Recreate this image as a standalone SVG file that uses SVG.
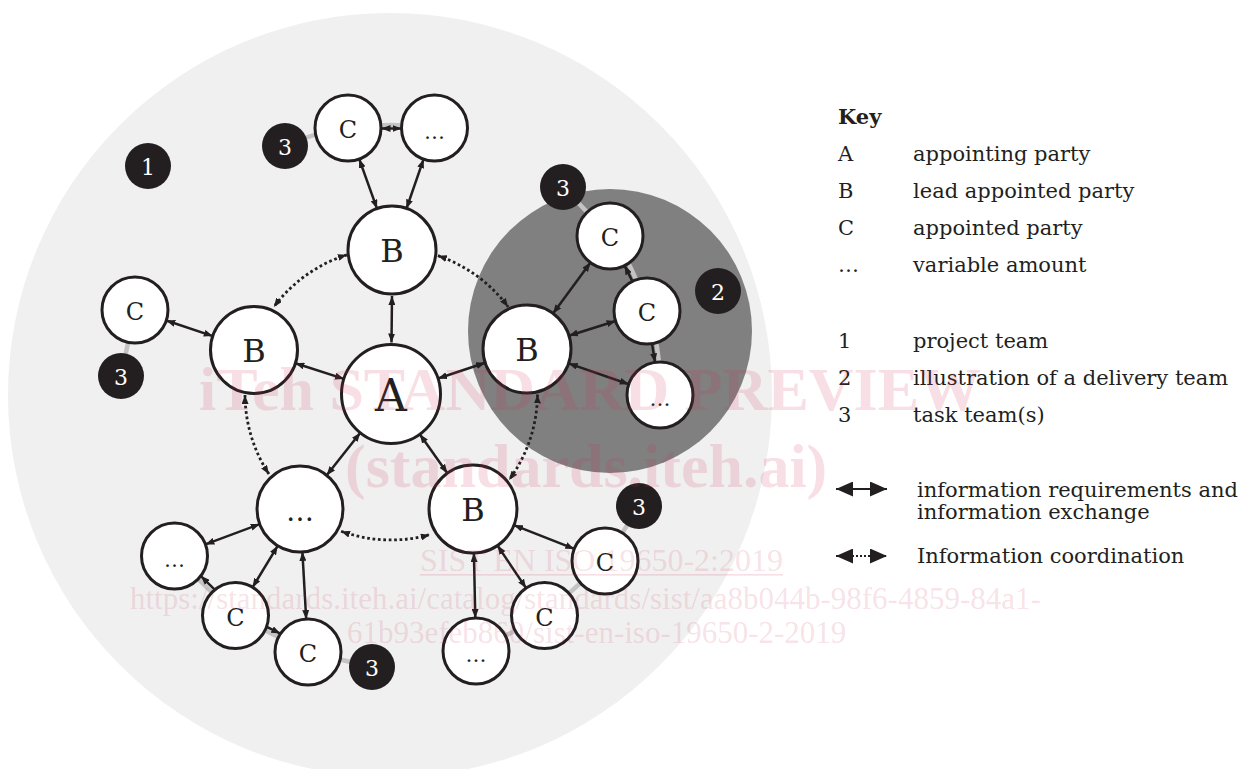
<svg xmlns="http://www.w3.org/2000/svg" width="1238" height="769" viewBox="0 0 1238 769">
<defs>
<marker id="ah" viewBox="0 0 9 7" refX="9" refY="3.5" markerWidth="9" markerHeight="7" markerUnits="userSpaceOnUse" orient="auto-start-reverse"><path d="M0,0L9,3.5L0,7z" fill="#231f20"/></marker>
<marker id="ahL" viewBox="0 0 17 15" refX="17" refY="7.5" markerWidth="17" markerHeight="15" markerUnits="userSpaceOnUse" orient="auto-start-reverse"><path d="M0,0L17,7.5L0,15z" fill="#231f20"/></marker>
</defs>
<style>
.node circle{fill:#fff;stroke:#231f20;stroke-width:3}
.node text{font-family:"DejaVu Serif",serif;fill:#231f20;text-anchor:middle}
.lg{font-size:32px}
.sm{font-size:24px}
.elb{font-size:28px}
.els{font-size:21px}
.badge circle{fill:#231f20}
.badge text{fill:#fff;font-family:"DejaVu Serif",serif;font-size:22px;text-anchor:middle}
.arr{stroke:#231f20;stroke-width:2.5;fill:none;marker-start:url(#ah);marker-end:url(#ah)}
.one{stroke:#231f20;stroke-width:2.5;fill:none;marker-end:url(#ah)}
.dot{stroke:#231f20;stroke-width:2.8;stroke-dasharray:2.7 2.7;fill:none;marker-start:url(#ah);marker-end:url(#ah)}
.task{stroke:#c4c4c4;stroke-width:4.5;fill:none}
.key{font-family:"DejaVu Serif",serif;font-size:21px;fill:#231f20}
.wm{font-family:"Liberation Serif",serif;fill:#c8284e;fill-opacity:0.15}
</style>
<rect width="1238" height="769" fill="#fff"/>
<g id="project-team">
<circle cx="390" cy="395" r="382" fill="#f0f0f0"/>
</g>
<g id="delivery-team">
<circle cx="610" cy="331" r="142" fill="#808080"/>
</g>
<g id="task-links">
<path class="task" d="M285,146 Q315,132 348,128 Q391,122 434.5,128"/>
<path class="task" d="M135,310 L121,376"/>
<path class="task" d="M563,187 L610,236 Q633,262 647,311 Q662,350 660,395"/>
<path class="task" d="M174.5,556 L235.5,615.5 L308,652 L372,667"/>
<path class="task" d="M639,506 L605,561 L544.5,615.5 L476,651"/>
</g>
<g id="connectors">
<line class="arr" x1="359.2" y1="159" x2="377" y2="208.6"/>
<line class="arr" x1="423.6" y1="159.2" x2="406.5" y2="208.5"/>
<line class="arr" x1="381.5" y1="128.5" x2="401.5" y2="128.5"/>
<line class="arr" x1="166.3" y1="320.5" x2="212.8" y2="336.1"/>
<line class="arr" x1="295.4" y1="363.3" x2="343.9" y2="378.9"/>
<line class="arr" x1="392" y1="296" x2="391.5" y2="342.5"/>
<line class="arr" x1="485.2" y1="362.8" x2="438" y2="378.5"/>
<line class="arr" x1="360.3" y1="432.8" x2="326.7" y2="475.3"/>
<line class="arr" x1="419.8" y1="434.3" x2="447.4" y2="473.2"/>
<line class="arr" x1="553" y1="313.5" x2="590.5" y2="262.6"/>
<line class="arr" x1="568.9" y1="335.7" x2="615.6" y2="321"/>
<line class="arr" x1="568.6" y1="363.4" x2="628.8" y2="384.2"/>
<line class="one" x1="632.4" y1="281.4" x2="624.6" y2="265.6"/>
<line class="one" x1="652" y1="343.6" x2="655" y2="362.4"/>
<line class="arr" x1="259.7" y1="524.1" x2="205.4" y2="544.4"/>
<line class="arr" x1="277.7" y1="545.8" x2="252.6" y2="587.3"/>
<line class="arr" x1="302.4" y1="551.9" x2="306.2" y2="619.1"/>
<line class="one" x1="214.7" y1="589.6" x2="200.9" y2="576.1"/>
<line class="one" x1="266.8" y1="626.8" x2="280.3" y2="633.6"/>
<line class="arr" x1="513.9" y1="525.1" x2="574.3" y2="548.9"/>
<line class="arr" x1="497.5" y1="545.5" x2="526.1" y2="588.1"/>
<line class="arr" x1="473.9" y1="553" x2="475.3" y2="618"/>
<path class="dot" d="M346.9,254.8 A146,146 0 0 0 273.8,307"/>
<path class="dot" d="M437.9,255.7 A146,146 0 0 1 508.2,307"/>
<path class="dot" d="M245,395 A146,146 0 0 0 269,474.2"/>
<path class="dot" d="M537.5,394.5 A146,146 0 0 1 509,480"/>
<path class="dot" d="M341.1,531.2 A146,146 0 0 0 429.8,534.7"/>
</g>
<g id="nA" class="node"><circle cx="391" cy="394" r="49.5"/><text x="391" y="411" style="font-size:44px">A</text></g>
<g id="nB1" class="node"><circle cx="392" cy="250" r="44"/><text class="lg" x="392" y="262">B</text></g>
<g id="nB2" class="node"><circle cx="254" cy="350" r="43.5"/><text class="lg" x="254" y="362">B</text></g>
<g id="nB3" class="node"><circle cx="527" cy="349" r="44"/><text class="lg" x="527" y="361">B</text></g>
<g id="nB4" class="node"><circle cx="473" cy="509" r="44"/><text class="lg" x="473" y="521">B</text></g>
<g id="nE1" class="node"><circle cx="300" cy="509" r="43"/><text class="elb" x="300" y="521">…</text></g>
<g id="nC1" class="node"><circle cx="348" cy="128" r="33"/><text class="sm" x="348" y="138">C</text></g>
<g id="nE2" class="node"><circle cx="434.5" cy="128" r="33"/><text class="els" x="434.5" y="139">…</text></g>
<g id="nC2" class="node"><circle cx="135" cy="310" r="33"/><text class="sm" x="135" y="320">C</text></g>
<g id="nC3" class="node"><circle cx="610" cy="236" r="33"/><text class="sm" x="610" y="246">C</text></g>
<g id="nC4" class="node"><circle cx="647" cy="311" r="33"/><text class="sm" x="647" y="321">C</text></g>
<g id="nE3" class="node"><circle cx="660" cy="395" r="33"/><text class="els" x="660" y="406">…</text></g>
<g id="nE4" class="node"><circle cx="174.5" cy="556" r="33"/><text class="els" x="174.5" y="567">…</text></g>
<g id="nC5" class="node"><circle cx="235.5" cy="615.5" r="33"/><text class="sm" x="235.5" y="625.5">C</text></g>
<g id="nC6" class="node"><circle cx="308" cy="652" r="33"/><text class="sm" x="308" y="662">C</text></g>
<g id="nC7" class="node"><circle cx="605" cy="561" r="33"/><text class="sm" x="605" y="571">C</text></g>
<g id="nC8" class="node"><circle cx="544.5" cy="615.5" r="33"/><text class="sm" x="544.5" y="625.5">C</text></g>
<g id="nE5" class="node"><circle cx="476" cy="651" r="33"/><text class="els" x="476" y="662">…</text></g>
<g id="badge1" class="badge"><circle cx="148" cy="166" r="23"/><text x="148" y="175">1</text></g>
<g id="badge2" class="badge"><circle cx="718" cy="291" r="23"/><text x="718" y="300">2</text></g>
<g id="badge3a" class="badge"><circle cx="285" cy="146" r="23"/><text x="285" y="155">3</text></g>
<g id="badge3b" class="badge"><circle cx="121" cy="376" r="23"/><text x="121" y="385">3</text></g>
<g id="badge3c" class="badge"><circle cx="563" cy="187" r="23"/><text x="563" y="196">3</text></g>
<g id="badge3d" class="badge"><circle cx="639" cy="506" r="23"/><text x="639" y="515">3</text></g>
<g id="badge3e" class="badge"><circle cx="372" cy="667" r="23"/><text x="372" y="676">3</text></g>
<g id="key" class="key">
<text x="838" y="124" font-weight="bold">Key</text>
<text x="838" y="161">A</text><text x="913" y="161">appointing party</text>
<text x="838" y="198">B</text><text x="913" y="198">lead appointed party</text>
<text x="838" y="235">C</text><text x="913" y="235">appointed party</text>
<text x="838" y="272">…</text><text x="913" y="272">variable amount</text>
<text x="838" y="348">1</text><text x="913" y="348">project team</text>
<text x="838" y="385">2</text><text x="913" y="385">illustration of a delivery team</text>
<text x="838" y="422">3</text><text x="913" y="422">task team(s)</text>
<line x1="836" y1="489" x2="887" y2="489" stroke="#231f20" stroke-width="2" marker-start="url(#ahL)" marker-end="url(#ahL)"/>
<text x="917" y="497">information requirements and</text>
<text x="917" y="519">information exchange</text>
<line x1="836" y1="556" x2="887" y2="556" stroke="#231f20" stroke-width="2" stroke-dasharray="2 2" marker-start="url(#ahL)" marker-end="url(#ahL)"/>
<text x="917" y="563">Information coordination</text>
</g>
<g id="watermark" class="wm">
<text x="199" y="410" font-size="62" font-weight="bold">iTeh STANDARD PREVIEW</text>
<text x="345" y="487" font-size="62" font-weight="bold">(standards.iteh.ai)</text>
<text x="420" y="571" font-size="32">SIST EN ISO 19650-2:2019</text>
<rect x="420" y="574" width="363" height="1.6"/>
<text x="130" y="609" font-size="31">https://standards.iteh.ai/catalog/standards/sist/aa8b044b-98f6-4859-84a1-</text>
<text x="347" y="643" font-size="31">61b93efeb860/sist-en-iso-19650-2-2019</text>
</g>
</svg>
